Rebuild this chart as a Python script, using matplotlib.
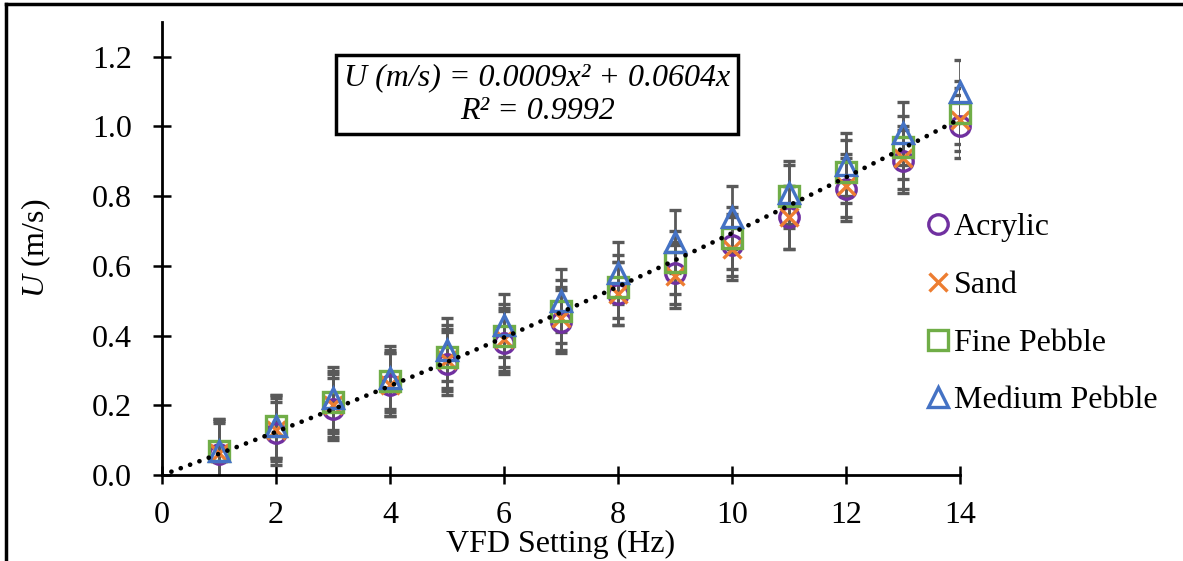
import matplotlib
matplotlib.use("Agg")
import matplotlib.pyplot as plt
from matplotlib.lines import Line2D
import numpy as np

plt.rcParams["font.family"] = ["Liberation Serif", "DejaVu Serif"]
plt.rcParams["mathtext.fontset"] = "custom"
plt.rcParams["mathtext.rm"] = "Liberation Serif"
plt.rcParams["mathtext.it"] = "Liberation Serif:italic"

# data
vfd = [1, 2, 3, 4, 5, 6, 7, 8, 9, 10, 11, 12, 13, 14]
acrylic = [0.06, 0.12, 0.19, 0.26, 0.32, 0.38, 0.44, 0.52, 0.58, 0.66, 0.74, 0.82, 0.90, 1.00]
sand = [0.065, 0.13, 0.20, 0.26, 0.33, 0.39, 0.45, 0.52, 0.57, 0.65, 0.74, 0.83, 0.91, 1.02]
fine = [0.07, 0.14, 0.21, 0.27, 0.34, 0.40, 0.47, 0.54, 0.61, 0.68, 0.80, 0.87, 0.94, 1.04]
medium = [0.07, 0.14, 0.22, 0.28, 0.36, 0.43, 0.50, 0.58, 0.67, 0.74, 0.81, 0.89, 0.98, 1.10]
err = 0.09

series_names = ["Acrylic", "Sand", "Fine Pebble", "Medium Pebble"]
series_vals = [acrylic, sand, fine, medium]
colors = ["#7030A0", "#ED7D31", "#70AD47", "#4472C4"]
markers = ["o", "x", "s", "^"]

# trendline coefficients from the displayed equation
trend_coef = [0.0009, 0.0604, 0.0]

fig = plt.figure(figsize=(11.83, 5.61), dpi=100)
ax = fig.add_axes([0.137, 0.153, 0.6745, 0.808])

handles = []
for name, vals, c, m in zip(series_names, series_vals, colors, markers):
    ms = 14 if m != "x" else 13
    line, caps, bars = ax.errorbar(vfd, vals, yerr=err, fmt=m, ms=ms, mfc="none",
                                   mec=c, mew=2.4, ecolor="#595959", elinewidth=2,
                                   capsize=4.5, capthick=2)
    line.set_clip_on(False)
    handles.append(Line2D([], [], ls="none", marker=m, ms=ms, mfc="none",
                          mec=c, mew=2.4, label=name))

xs = np.linspace(0, 14, 200)
ax.plot(xs, np.polyval(trend_coef, xs), color="black", lw=3.4,
        ls=(0, (0.01, 2.1)), dash_capstyle="round", zorder=5)

ax.set_xlim(0, 14)
ax.set_ylim(0, 1.3)
ax.set_xticks(range(0, 15, 2))
ax.set_yticks(np.arange(0, 1.21, 0.2))
ax.set_yticklabels([f"{v:.1f}" for v in np.arange(0, 1.21, 0.2)])
for s in ["top", "right"]:
    ax.spines[s].set_visible(False)
for s in ["left", "bottom"]:
    ax.spines[s].set_linewidth(2)
ax.tick_params(direction="inout", length=13, width=1.8, labelsize=23)
ax.tick_params(axis="x", pad=12)
ax.tick_params(axis="y", pad=15)

ax.set_xlabel("VFD Setting (Hz)", fontsize=23, labelpad=0)
ax.set_ylabel(r"$\mathit{U}$ (m/s)", fontsize=23, labelpad=28)

ax.text(6.58, 1.092, "U (m/s) = 0.0009x² + 0.0604x\nR² = 0.9992",
        fontsize=23, style="italic", ha="center", va="center",
        linespacing=1.2,
        bbox=dict(boxstyle="square,pad=0.25", fc="white", ec="black", lw=2.5),
        zorder=6)

fig.legend(handles=handles, loc="upper left", bbox_to_anchor=(0.759, 0.672),
           frameon=False, fontsize=23, handlelength=0.7, handletextpad=0.15,
           labelspacing=0.89)

# outer chart frame (left and top edges visible)
fig.add_artist(Line2D([0.005, 0.005], [0, 0.993], color="black", lw=2.5))
fig.add_artist(Line2D([0.005, 1.0], [0.993, 0.993], color="black", lw=2.5))

fig.savefig("out.png", dpi=100)
